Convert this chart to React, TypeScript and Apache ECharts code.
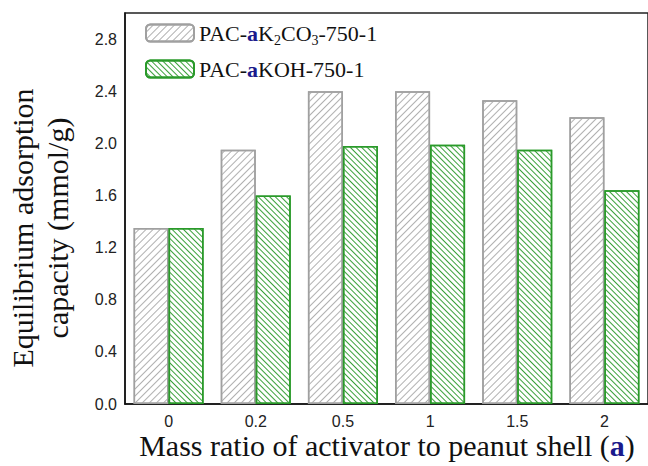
import React, { useEffect, useRef } from "react";
import * as echarts from "echarts";

const categories = ["0", "0.2", "0.5", "1", "1.5", "2"];
const k2co3Values = [1.35, 1.95, 2.4, 2.4, 2.33, 2.2];
const kohValues = [1.35, 1.6, 1.98, 1.99, 1.95, 1.64];
const seriesNames = ["PAC-aK2CO3-750-1", "PAC-aKOH-750-1"];
const yTickMax = 2.8;

const legendRich: Record<string, string> = {
  "PAC-aK2CO3-750-1": "{n|PAC-}{a|a}{n|K}{s|2}{n|CO}{s|3}{n|-750-1}",
  "PAC-aKOH-750-1": "{n|PAC-}{a|a}{n|KOH-750-1}",
};

const serif = "'Liberation Serif', 'Times New Roman', serif";
const sans = "'Liberation Sans', Arial, sans-serif";

export default function App() {
  const ref = useRef<HTMLDivElement>(null);
  useEffect(() => {
    if (!ref.current) return;
    const chart = echarts.init(ref.current, null, { renderer: "svg" });
    chart.setOption({
      animation: false,
      backgroundColor: "#fff",
      grid: {
        left: 125,
        top: 13,
        right: -2,
        bottom: 62,
        show: true,
        borderColor: "#222",
        borderWidth: 1.5,
      },
      legend: {
        left: 145,
        top: 22,
        padding: 0,
        orient: "vertical",
        itemWidth: 48,
        itemHeight: 17,
        itemGap: 11,
        data: seriesNames,
        formatter: (name: string) => legendRich[name] || name,
        textStyle: {
          fontFamily: serif,
          fontSize: 22,
          color: "#111",
          rich: {
            n: { fontFamily: serif, fontSize: 22, color: "#111", lineHeight: 28 },
            a: { fontFamily: serif, fontSize: 22, color: "#1a1a8c", fontWeight: "bold", lineHeight: 28 },
            s: { fontFamily: serif, fontSize: 14, color: "#111", lineHeight: 14, verticalAlign: "bottom" },
          },
        },
      },
      xAxis: {
        type: "category",
        data: categories,
        axisLine: { lineStyle: { color: "#111", width: 1.5 } },
        axisTick: { show: true, alignWithLabel: true, inside: true, length: 5, lineStyle: { color: "#111" } },
        axisLabel: { fontFamily: sans, fontSize: 16, color: "#222", margin: 9 },
      },
      yAxis: {
        type: "value",
        min: 0,
        max: 3.0,
        interval: 0.4,
        splitLine: { show: false },
        axisLine: { show: true, lineStyle: { color: "#111", width: 1.5 } },
        axisTick: { show: false },
        axisLabel: {
          fontFamily: sans,
          fontSize: 16,
          color: "#222",
          margin: 8,
          formatter: (v: number) => (v > yTickMax + 0.01 ? "" : v.toFixed(1)),
        },
      },
      series: [
        {
          name: seriesNames[0],
          type: "bar",
          data: k2co3Values,
          barWidth: 35,
          barGap: "0%",
          itemStyle: {
            color: "#fff",
            borderColor: "#a0a0a0",
            borderWidth: 1.5,
            decal: {
              symbol: "rect",
              symbolSize: 1,
              color: "#b0b0b0",
              dashArrayX: [1, 0],
              dashArrayY: [1, 4],
              rotation: -Math.PI / 4,
            },
          },
        },
        {
          name: seriesNames[1],
          type: "bar",
          data: kohValues,
          barWidth: 35,
          barGap: "0%",
          itemStyle: {
            color: "#fff",
            borderColor: "#2a9a2a",
            borderWidth: 1.5,
            decal: {
              symbol: "rect",
              symbolSize: 1,
              color: "#3aa03a",
              dashArrayX: [1, 0],
              dashArrayY: [1, 3],
              rotation: Math.PI / 4,
            },
          },
        },
      ],
      graphic: [
        {
          type: "text",
          x: 387,
          y: 445,
          style: {
            text: "{n|Mass ratio of activator to peanut shell (}{a|a}{n|)}",
            align: "center",
            verticalAlign: "middle",
            rich: {
              n: { fontFamily: serif, fontSize: 30, fill: "#111" },
              a: { fontFamily: serif, fontSize: 30, fill: "#1a1a8c", fontWeight: "bold" },
            },
          },
        },
        {
          type: "text",
          x: 40,
          y: 228,
          rotation: Math.PI / 2,
          style: {
            text: "Equilibrium adsorption\ncapacity (mmol/g)",
            align: "center",
            verticalAlign: "middle",
            fontFamily: serif,
            fontSize: 30,
            lineHeight: 35,
            fill: "#111",
          },
        },
      ],
    });
    return () => chart.dispose();
  }, []);
  return (
    <div
      ref={ref}
      style={{ position: "fixed", left: 0, top: 0, width: 648, height: 466, background: "#fff" }}
    />
  );
}
